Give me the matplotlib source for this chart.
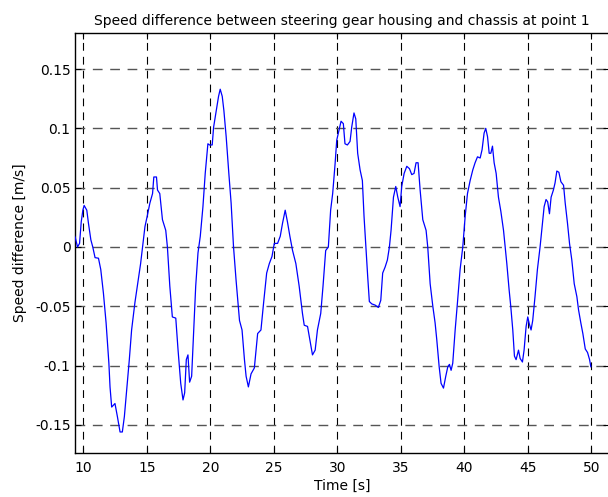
import matplotlib
matplotlib.use("Agg")
import matplotlib.pyplot as plt

plt.rcParams['font.family'] = ['DejaVu Sans']
plt.rcParams['axes.unicode_minus'] = False

# ---- data ----
time_s = [9.31, 9.35, 9.53, 9.69, 9.82, 9.95, 10.05, 10.26, 10.39, 10.58, 10.73, 10.91,
          11.18, 11.36, 11.57, 11.78, 12.00, 12.09, 12.22, 12.48, 12.67, 12.88, 13.06,
          13.22, 13.40, 13.61, 13.79, 14.05, 14.31, 14.50, 14.65, 14.84, 15.02, 15.23,
          15.44, 15.54, 15.75, 15.83, 16.01, 16.22, 16.48, 16.61, 16.80, 17.00, 17.27,
          17.45, 17.66, 17.84, 17.97, 18.10, 18.23, 18.36, 18.52, 18.68, 18.84, 19.02,
          19.20, 19.41, 19.59, 19.80, 19.93, 20.14, 20.25, 20.46, 20.64, 20.77, 20.93,
          21.06, 21.24, 21.45, 21.63, 21.82, 22.02, 22.29, 22.49, 22.68, 22.81, 22.99,
          23.20, 23.46, 23.72, 23.98, 24.19, 24.43, 24.64, 24.85, 25.03, 25.29, 25.50,
          25.68, 25.89, 26.07, 26.26, 26.47, 26.73, 26.99, 27.25, 27.39, 27.65, 27.83,
          28.04, 28.25, 28.43, 28.69, 28.87, 29.08, 29.29, 29.47, 29.63, 29.82, 29.95,
          30.16, 30.29, 30.47, 30.60, 30.79, 31.00, 31.13, 31.31, 31.45, 31.60, 31.79,
          31.97, 32.10, 32.26, 32.39, 32.52, 32.71, 32.97, 33.23, 33.42, 33.57, 33.76,
          33.94, 34.10, 34.23, 34.42, 34.60, 34.76, 34.94, 35.07, 35.26, 35.47, 35.68,
          35.86, 36.04, 36.20, 36.36, 36.52, 36.73, 36.99, 37.12, 37.31, 37.52, 37.70,
          37.83, 38.02, 38.17, 38.36, 38.54, 38.70, 38.83, 38.96, 39.09, 39.28, 39.46,
          39.67, 39.88, 40.07, 40.25, 40.46, 40.67, 40.85, 41.04, 41.25, 41.40, 41.56,
          41.69, 41.83, 41.96, 42.09, 42.22, 42.35, 42.51, 42.69, 42.88, 43.09, 43.22,
          43.35, 43.53, 43.66, 43.82, 43.95, 44.08, 44.27, 44.40, 44.58, 44.71, 44.87,
          45.00, 45.10, 45.26, 45.39, 45.57, 45.76, 45.97, 46.10, 46.29, 46.44, 46.57,
          46.71, 46.84, 47.02, 47.15, 47.29, 47.45, 47.61, 47.82, 47.95, 48.13, 48.29,
          48.47, 48.66, 48.87, 49.00, 49.18, 49.34, 49.53, 49.71, 49.87, 49.97]
speed_diff = [0.009, 0.008, 0.000, 0.003, 0.021, 0.031, 0.035, 0.031, 0.020, 0.006, 0.000, -0.009,
              -0.0095, -0.019, -0.039, -0.064, -0.098, -0.118, -0.135, -0.132, -0.143, -0.156, -0.156,
              -0.143, -0.121, -0.095, -0.070, -0.047, -0.028, -0.014, 0.000, 0.017, 0.026, 0.037,
              0.045, 0.059, 0.059, 0.048, 0.045, 0.023, 0.014, 0.000, -0.033, -0.059, -0.060,
              -0.087, -0.115, -0.129, -0.123, -0.095, -0.091, -0.114, -0.109, -0.070, -0.033, -0.005,
              0.009, 0.034, 0.062, 0.087, 0.086, 0.086, 0.101, 0.115, 0.127, 0.133, 0.127,
              0.115, 0.093, 0.062, 0.037, 0.000, -0.028, -0.062, -0.070, -0.095, -0.109, -0.118,
              -0.107, -0.102, -0.073, -0.070, -0.047, -0.022, -0.014, -0.008, 0.003, 0.003, 0.009,
              0.020, 0.031, 0.021, 0.009, -0.003, -0.014, -0.033, -0.056, -0.066, -0.067, -0.078,
              -0.091, -0.087, -0.070, -0.056, -0.033, -0.003, 0.000, 0.031, 0.045, 0.070, 0.090,
              0.100, 0.106, 0.104, 0.087, 0.086, 0.089, 0.101, 0.113, 0.108, 0.079, 0.065,
              0.056, 0.026, -0.003, -0.025, -0.046, -0.048, -0.049, -0.051, -0.045, -0.022, -0.017,
              -0.011, 0.000, 0.014, 0.042, 0.051, 0.042, 0.034, 0.051, 0.062, 0.068, 0.066,
              0.061, 0.062, 0.071, 0.071, 0.048, 0.023, 0.014, 0.000, -0.031, -0.050, -0.064,
              -0.078, -0.101, -0.115, -0.119, -0.109, -0.101, -0.099, -0.104, -0.098, -0.070, -0.047,
              -0.019, 0.000, 0.026, 0.045, 0.056, 0.065, 0.071, 0.076, 0.075, 0.082, 0.096,
              0.100, 0.093, 0.079, 0.079, 0.085, 0.071, 0.062, 0.042, 0.030, 0.014, 0.000,
              -0.014, -0.036, -0.050, -0.070, -0.092, -0.095, -0.087, -0.094, -0.097, -0.087, -0.067,
              -0.059, -0.064, -0.070, -0.062, -0.042, -0.019, 0.000, 0.014, 0.034, 0.040, 0.038,
              0.028, 0.042, 0.048, 0.054, 0.064, 0.063, 0.055, 0.052, 0.037, 0.020, 0.003,
              -0.011, -0.031, -0.042, -0.053, -0.064, -0.073, -0.086, -0.089, -0.095, -0.101]

x_ticks = [10, 15, 20, 25, 30, 35, 40, 45, 50]
y_ticks = [-0.15, -0.1, -0.05, 0, 0.05, 0.1, 0.15]
y_tick_labels = ['-0.15', '-0.1', '-0.05', '0', '0.05', '0.1', '0.15']

title_text = 'Speed difference between steering gear housing and chassis at point 1'
x_label = 'Time [s]'
y_label = 'Speed difference [m/s]'

# ---- figure ----
W, H = 608, 497
fig = plt.figure(figsize=(W / 100, H / 100), dpi=100)
left_px, right_px, top_px, bottom_px = 74.7, 609.0, 33.0, 452.5
ax = fig.add_axes([left_px / W, (H - bottom_px) / H,
                   (right_px - left_px) / W, (bottom_px - top_px) / H])

ax.plot(time_s, speed_diff, color='#0000FF', linewidth=0.9, zorder=3)

ax.set_xlim(9.307, 51.40)
ax.set_ylim(-0.1733, 0.1804)
ax.set_xticks(x_ticks)
ax.set_xticklabels([str(t) for t in x_ticks])
ax.set_yticks(y_ticks)
ax.set_yticklabels(y_tick_labels)

ax.xaxis.grid(True, color='black', linewidth=0.8, linestyle=(0, (7, 5.5)))
ax.yaxis.grid(True, color='#555555', linewidth=1.0, linestyle=(0, (7, 5.5)))
ax.set_axisbelow(True)

ax.tick_params(axis='both', direction='in', length=4, width=0.8, colors='black',
               labelsize=10, top=True, right=True)
ax.tick_params(axis='x', pad=6)
ax.tick_params(axis='y', pad=3)
for s in ax.spines.values():
    s.set_linewidth(1.0)
    s.set_color('black')

ax.set_title(title_text, fontsize=10, pad=6)
ax.set_xlabel(x_label, fontsize=10, labelpad=3)
ax.set_ylabel(y_label, fontsize=10, labelpad=6)

fig.savefig('out.png', dpi=100)
